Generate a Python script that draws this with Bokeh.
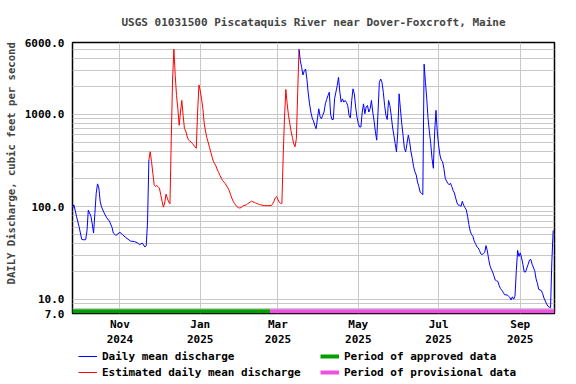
import pandas as pd
from bokeh.plotting import figure
from bokeh.layouts import column
from bokeh.models import Range1d, FixedTicker, PrintfTickFormatter, Legend, LegendItem, Title
from bokeh.embed import file_html
from bokeh.resources import INLINE

# ---------------- data ----------------
START = "2024-09-26"   # first day shown on the graph
END = "2025-09-27"     # last day shown on the graph

# daily mean discharge (days since START, cubic feet per second)
blue1_day = [0, 1, 2, 3, 5, 6, 7, 8, 10, 11, 12, 14, 15, 16, 17, 18, 19, 20, 21, 22,
             24, 26, 28, 30, 31, 33, 36, 38, 40, 44, 47, 49, 51, 53, 55, 56, 57, 58]
blue1_cfs = [95, 105, 92, 79, 61, 52, 44.5, 44, 44, 55, 92, 79, 65, 52, 85, 140, 177, 160, 115, 100,
             86, 76, 70, 60, 52, 49, 53, 50, 47, 42.6, 42, 41, 39, 40.5, 36.7, 38, 70, 321]

# estimated daily mean discharge
red_day = list(range(58, 145)) + [146, 148, 150] + list(range(151, 173))
red_cfs = [321, 394, 308, 231, 173, 166, 170, 165, 159, 135, 115, 99, 110, 137, 124, 113, 108,
           548, 2415, 5070, 2630, 1600, 1150, 762, 1060, 1415, 977, 701, 660, 580, 530, 515, 505,
           485, 466, 445, 430, 1060, 2085, 1800, 1472, 1150, 800, 660, 560, 500, 440, 390, 345,
           310, 292, 275, 250, 235, 218, 204, 192, 185, 178, 168, 160, 150, 136, 124, 115, 109,
           104, 100, 98, 97, 98, 101, 103, 104, 105, 108, 110, 113, 115, 113, 112, 110, 109, 107,
           106, 105, 104,
           103, 103, 103,
           103, 108, 115, 125, 129, 120, 112, 109, 109, 363, 938, 1860, 1300, 980, 800, 650, 560,
           480, 447, 548, 1739, 5070]

# daily mean discharge after the estimated period
blue2_day = list(range(172, 329)) + list(range(330, 345)) + list(range(346, 350)) + \
    list(range(351, 355)) + list(range(356, 359)) + list(range(360, 366))
blue2_cfs = [5070, 3800, 3230, 2670, 2970, 3100, 2400, 1700, 1300, 1060, 915, 850, 760, 701, 897,
             1150, 950, 897, 977, 1060, 1300, 1450, 1600, 1739, 1000, 880, 880, 1472, 1739, 2050,
             2520, 1739, 1358, 1472, 1358, 1415, 1350, 1250, 977, 915, 1415, 1890, 1670, 1200,
             938, 800, 731, 731, 1060, 1300, 1016, 1200, 1250, 1060, 1150, 1415, 1060, 850, 647,
             526, 1060, 2228, 2415, 2228, 1739, 1250, 977, 880, 1415, 1250, 977, 731, 596, 485,
             394, 647, 1670, 1150, 794, 596, 430, 394, 485, 596, 505, 394, 334, 272, 240, 221,
             185, 166, 144, 140, 135, 3500, 2228, 1472, 897, 647, 485, 334, 261, 647, 1107, 647,
             466, 363, 321, 308, 261, 204, 190, 180, 173, 180, 166, 150, 141, 124, 110, 104, 104,
             101, 114.6, 104, 98, 93, 79, 64, 54.6, 50, 48, 42.6, 40, 37, 36, 33.8, 31, 30.5, 31,
             32, 38, 33.3, 27.1, 23, 21.1, 19.7, 17.9, 16.1, 15.8, 15.6, 14, 13, 12.5, 11.9, 11.2,
             11.1, 10.8, 10.5, 9.8, 10.6, 10, 10.8, 20.3, 33.8, 29, 31.7, 28, 23.9, 19.7, 19.7,
             23.9, 26.5, 27, 23.9,
             20.3, 16.6, 14.9, 12.8,
             12.4, 11.5, 10.3,
             8.9, 8.4, 8.2, 8.1, 26, 55.5]

# data-approval periods
approved_period = ["2024-09-26", "2025-02-23"]
provisional_period = ["2025-02-23", "2025-09-27"]
PERIOD_LEVEL = 7.4

month_ticks = ["2024-11-01", "2025-01-01", "2025-03-01", "2025-05-01", "2025-07-01", "2025-09-01"]
month_labels = ["Nov\n2024", "Jan\n2025", "Mar\n2025", "May\n2025", "Jul\n2025", "Sep\n2025"]

y_ticks = [7, 10, 100, 1000, 6000]
y_grid = [8, 9, 10, 20, 30, 40, 50, 60, 70, 80, 90, 100, 200, 300, 400, 500, 600, 700, 800,
          900, 1000, 2000, 3000, 4000, 5000]

TITLE = "USGS 01031500 Piscataquis River near Dover-Foxcroft, Maine"
Y_LABEL = "DAILY Discharge, cubic feet per second"
LEGEND_LEFT = ["Daily mean discharge", "Estimated daily mean discharge"]
LEGEND_RIGHT = ["Period of approved data", "Period of provisional data"]

BLUE, RED, GREEN, MAGENTA = "#0000ff", "#ff0000", "#00a000", "#f050e0"

# ---------------- helpers ----------------
t0 = pd.Timestamp(START)


def day_of(s):
    return (pd.Timestamp(s) - t0).days


span = day_of(END)
tick_x = [day_of(d) for d in month_ticks]

FONT = "DejaVu Sans Mono"

# ---------------- main chart ----------------
p = figure(width=576, height=349, x_range=Range1d(0, span), y_range=Range1d(7, 6000),
           y_axis_type="log", output_backend="svg", toolbar_location=None,
           min_border_left=72, min_border_right=22, min_border_top=40, min_border_bottom=36,
           title=TITLE)

p.title.text_font = FONT
p.title.text_font_size = "11px"
p.title.text_font_style = "bold"
p.title.align = "center"
p.title.standoff = 27

p.outline_line_color = "black"
p.outline_line_width = 1.5
p.background_fill_color = "white"
p.border_fill_color = "white"

p.xgrid.ticker = FixedTicker(ticks=tick_x)
p.ygrid.ticker = FixedTicker(ticks=y_grid)
for g in (p.xgrid, p.ygrid):
    g.grid_line_color = "#c8c8c8"
    g.grid_line_width = 1

for ax in (p.xaxis, p.yaxis):
    ax.axis_line_color = None
    ax.major_tick_line_color = None
    ax.minor_tick_line_color = None
    ax.major_tick_out = 0
    ax.major_tick_in = 0
    ax.minor_tick_out = 0
    ax.minor_tick_in = 0
    ax.major_label_text_font = FONT
    ax.major_label_text_font_size = "11px"
    ax.major_label_text_font_style = "bold"
    ax.major_label_text_color = "black"

p.xaxis.ticker = FixedTicker(ticks=tick_x)
p.xaxis.major_label_overrides = {x: lab for x, lab in zip(tick_x, month_labels)}
p.xaxis.major_label_standoff = 4
p.xaxis.major_label_text_line_height = 1.2

p.yaxis.ticker = FixedTicker(ticks=y_ticks)
p.yaxis.formatter = PrintfTickFormatter(format="%.1f")
p.yaxis.major_label_standoff = 8

ytitle = Title(text=Y_LABEL, align="left", offset=29, standoff=7, vertical_align="middle",
               text_font=FONT, text_font_size="10.6px", text_font_style="bold")
p.add_layout(ytitle, "left")

r_b1 = p.line(blue1_day, blue1_cfs, line_color=BLUE, line_width=1)
r_red = p.line(red_day, red_cfs, line_color=RED, line_width=1)
r_b2 = p.line(blue2_day, blue2_cfs, line_color=BLUE, line_width=1)
p.line([day_of(d) for d in approved_period], [PERIOD_LEVEL] * 2, line_color=GREEN, line_width=4)
p.line([day_of(d) for d in provisional_period], [PERIOD_LEVEL] * 2, line_color=MAGENTA, line_width=4)

# ---------------- legend strip (frame is aligned with the chart frame) ----------------
q = figure(width=576, height=35, x_range=Range1d(0, 1), y_range=Range1d(0, 1),
           output_backend="svg", toolbar_location=None, min_border=0,
           x_axis_location=None, y_axis_location=None)
q.outline_line_color = None
q.grid.visible = False

NA = float("nan")
k_b = q.line(x=[0], y=[NA], line_color=BLUE, line_width=1)
k_r = q.line(x=[0], y=[NA], line_color=RED, line_width=1)
k_g = q.line(x=[0], y=[NA], line_color=GREEN, line_width=4)
k_m = q.line(x=[0], y=[NA], line_color=MAGENTA, line_width=4)


def make_legend(labels, rends, loc):
    lg = Legend(items=[LegendItem(label=t, renderers=[r]) for t, r in zip(labels, rends)],
                location=loc, orientation="vertical")
    lg.background_fill_alpha = 0
    lg.border_line_color = None
    lg.padding = 0
    lg.margin = 0
    lg.spacing = 2
    lg.glyph_width = 19
    lg.glyph_height = 14
    lg.label_height = 14
    lg.label_standoff = 5
    lg.label_text_font = FONT
    lg.label_text_font_size = "11px"
    lg.label_text_font_style = "bold"
    lg.label_text_color = "black"
    return lg


q.add_layout(make_legend(LEGEND_LEFT, [k_b, k_r], (6, 5)))
q.add_layout(make_legend(LEGEND_RIGHT, [k_g, k_m], (248, 5)))

root = column(p, q, spacing=0)
open("out.html", "w").write(file_html(root, INLINE))
